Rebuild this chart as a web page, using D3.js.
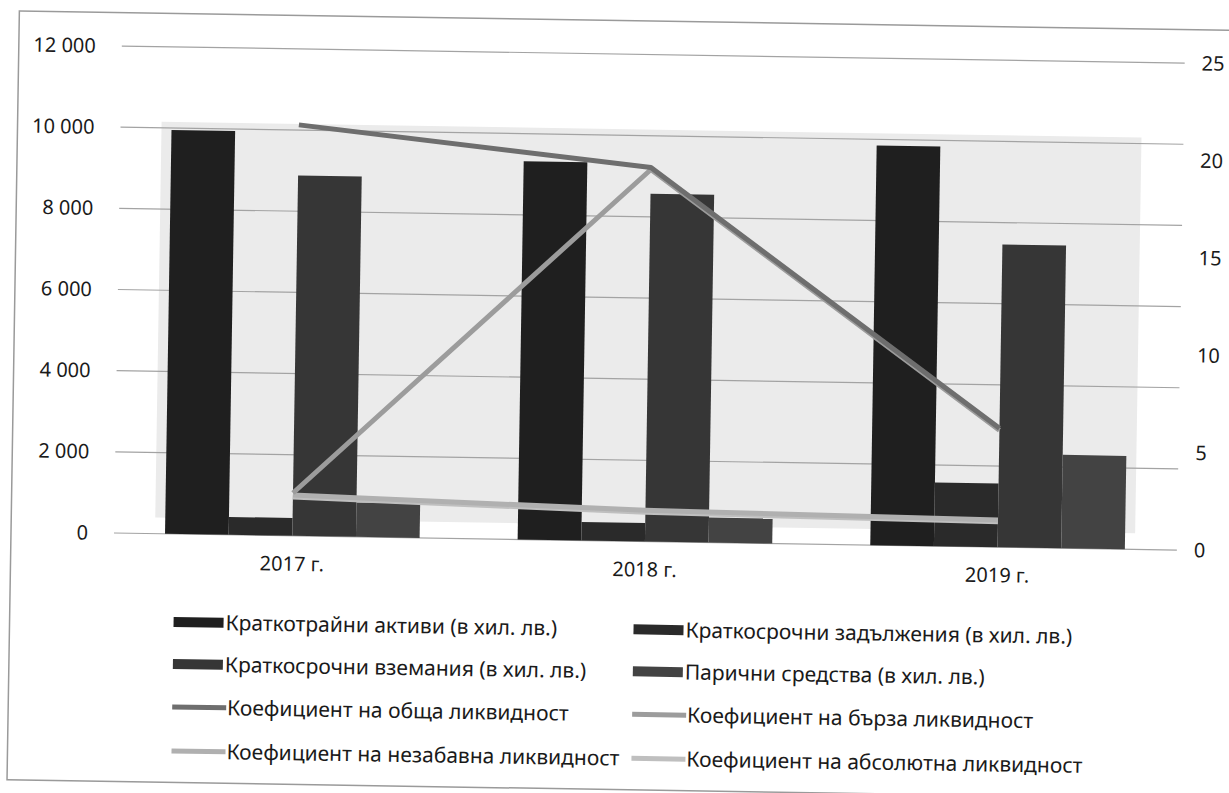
<!DOCTYPE html>
<html>
<head>
<meta charset="utf-8">
<script src="https://cdn.jsdelivr.net/npm/d3@7/dist/d3.min.js"></script>
<style>
  html, body { margin: 0; padding: 0; background: #ffffff; }
  svg { display: block; }
  text { font-family: "Noto Sans", "Open Sans", sans-serif; fill: #1a1a1a; }
</style>
</head>
<body>
<svg id="chart" width="1229" height="793"></svg>
<script>
// ---- data ----
const categories = ["2017 г.", "2018 г.", "2019 г."];
const barNames = [
  "Краткотрайни активи (в хил. лв.)",
  "Краткосрочни задължения (в хил. лв.)",
  "Краткосрочни вземания (в хил. лв.)",
  "Парични средства (в хил. лв.)"
];
const kratkotrajniAktivi       = [9950, 9320, 9850];
const kratkosrochniZadalzhenia = [440, 455, 1570];
const kratkosrochniVzemania    = [8880, 8570, 7460];
const parichniSredstva         = [850, 615, 2300];

const lineNames = [
  "Коефициент на обща ликвидност",
  "Коефициент на бърза ликвидност",
  "Коефициент на незабавна ликвидност",
  "Коефициент на абсолютна ликвидност"
];
const kObshta     = [21.1, 19.2, 6.1];
const kBarza      = [2.2, 19.1, 6.0];
const kNezabavna  = [2.1, 1.6, 1.4];
const kAbsolyutna = [2.0, 1.5, 1.3];

const leftTicks  = [0, 2000, 4000, 6000, 8000, 10000, 12000];
const rightTicks = [0, 5, 10, 15, 20, 25];

// ---- styles ----
const barColors  = ["#1f1f1f", "#2a2a2a", "#363636", "#434343"];
const lineColors = ["#6e6e6e", "#9c9c9c", "#b0b0b0", "#bfbfbf"];

const barSeries = [kratkotrajniAktivi, kratkosrochniZadalzhenia, kratkosrochniVzemania, parichniSredstva];
const lineSeries = [kObshta, kBarza, kNezabavna, kAbsolyutna];

const svg = d3.select("#chart");
// scanned page is slightly tilted
const g = svg.append("g").attr("transform", "rotate(0.92,115,533)");

const fmt = d3.formatLocale({decimal: ",", thousands: " ", grouping: [3], currency: ["", ""]}).format(",");

const plotLeft = 116, plotRight = 1174;
const yL = d3.scaleLinear().domain([0, 12000]).range([533, 46]);
const yR = d3.scaleLinear().domain([0, 25]).range([533, 46]);
const x0 = d3.scaleBand().domain(categories).range([plotLeft, plotRight]).paddingInner(0.278).paddingOuter(0.139);
const x1 = d3.scaleBand().domain(d3.range(barNames.length)).range([0, x0.bandwidth()]).padding(0);

// outer frame
g.append("rect").attr("x", 11).attr("y", 12.5).attr("width", 1320).attr("height", 769)
  .attr("fill", "none").attr("stroke", "#9a9a9a").attr("stroke-width", 1.5);

// back wall
g.append("rect").attr("x", 155).attr("y", yL(10150))
  .attr("width", 980).attr("height", yL(400) - yL(10150))
  .attr("fill", "#ebebeb");

// gridlines
g.append("g").selectAll("line").data(leftTicks).join("line")
  .attr("x1", 114).attr("x2", 1177)
  .attr("y1", d => yL(d)).attr("y2", d => yL(d))
  .attr("stroke", "#a3a3a3").attr("stroke-width", 1.2);

// left axis labels
g.append("g").selectAll("text").data(leftTicks).join("text")
  .attr("x", 88).attr("y", d => yL(d)).attr("dy", "0.35em")
  .attr("text-anchor", "end").attr("font-size", 20)
  .text(d => fmt(d));

// right axis labels
g.append("g").selectAll("text").data(rightTicks).join("text")
  .attr("x", 1194).attr("y", d => yR(d)).attr("dy", "0.35em")
  .attr("text-anchor", "start").attr("font-size", 20)
  .text(d => d);

// bars
const groups = g.append("g").selectAll("g").data(categories).join("g")
  .attr("transform", d => `translate(${x0(d)},0)`);
groups.selectAll("rect").data((d, ci) => barSeries.map((s, si) => ({si, v: s[ci]}))).join("rect")
  .attr("x", d => x1(d.si)).attr("width", x1.bandwidth())
  .attr("y", d => yL(d.v)).attr("height", d => yL(0) - yL(d.v))
  .attr("fill", d => barColors[d.si]);

// category labels
g.append("g").selectAll("text").data(categories).join("text")
  .attr("x", d => x0(d) + x0.bandwidth() / 2).attr("y", 561).attr("dy", "0.35em")
  .attr("text-anchor", "middle").attr("font-size", 20)
  .text(d => d);

// lines
const line = d3.line().x((d, i) => x0(categories[i]) + x0.bandwidth() / 2).y(d => yR(d));
const drawOrder = [3, 2, 1, 0];
g.append("g").selectAll("path").data(drawOrder).join("path")
  .attr("d", i => line(lineSeries[i]))
  .attr("fill", "none").attr("stroke", i => lineColors[i])
  .attr("stroke-width", 5).attr("stroke-linejoin", "round").attr("stroke-linecap", "butt");

// legend
const legendItems = [
  {type: "bar", idx: 0, col: 0, row: 0},
  {type: "bar", idx: 1, col: 1, row: 0},
  {type: "bar", idx: 2, col: 0, row: 1},
  {type: "bar", idx: 3, col: 1, row: 1},
  {type: "line", idx: 0, col: 0, row: 2},
  {type: "line", idx: 1, col: 1, row: 2},
  {type: "line", idx: 2, col: 0, row: 3},
  {type: "line", idx: 3, col: 1, row: 3}
];
const colX = [175, 635];
const rowY = [621, 663, 706, 750];
const leg = g.append("g").selectAll("g").data(legendItems).join("g")
  .attr("transform", d => `translate(${colX[d.col]},${rowY[d.row]})`);
leg.filter(d => d.type === "bar").append("rect")
  .attr("x", 0).attr("y", -5).attr("width", 50).attr("height", 10)
  .attr("fill", d => barColors[d.idx]);
leg.filter(d => d.type === "line").append("line")
  .attr("x1", 0).attr("x2", 54).attr("y1", 0).attr("y2", 0)
  .attr("stroke", d => lineColors[d.idx]).attr("stroke-width", 5);
leg.append("text")
  .attr("x", d => d.type === "bar" ? 52 : 55).attr("y", 0).attr("dy", "0.35em")
  .attr("font-size", 21)
  .text(d => d.type === "bar" ? barNames[d.idx] : lineNames[d.idx]);
</script>
</body>
</html>
